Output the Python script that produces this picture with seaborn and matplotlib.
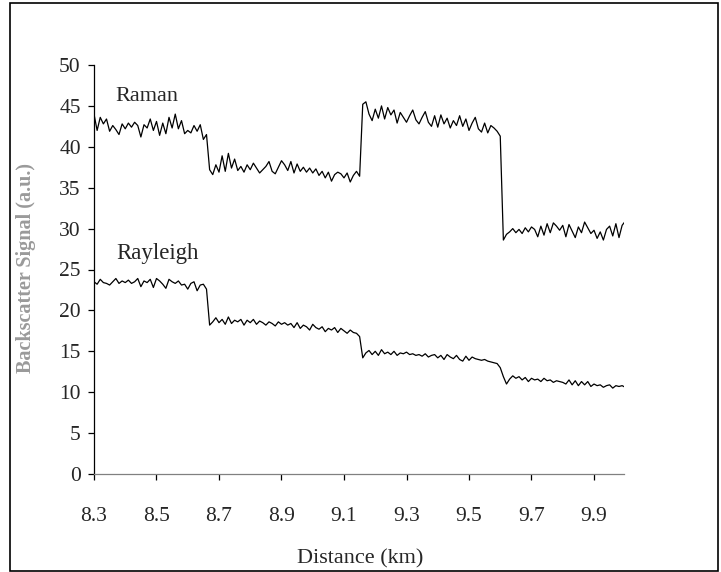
import numpy as np
import pandas as pd
import matplotlib
matplotlib.use("Agg")
import matplotlib.pyplot as plt
import seaborn as sns

# Backscatter traces sampled every 0.01 km from 8.30 to 10.00 km
raman_seg1 = [44.0, 42.0, 43.6, 42.8, 43.4, 41.9, 42.6, 42.1, 41.5, 42.8,
              42.2, 42.9, 42.4, 43.0, 42.6, 41.2, 42.7, 42.3, 43.4, 42.0,
              43.1, 41.4, 42.9, 41.6, 43.6, 42.3, 44.0, 42.2, 43.2, 41.6,
              42.0, 41.7, 42.6, 41.9, 42.7, 40.9, 41.5]
raman_seg2 = [37.2, 36.6, 37.8, 36.9, 38.9, 37.0, 39.2, 37.4, 38.5, 37.1,
              37.6, 36.9, 37.8, 37.2, 38.0, 37.4, 36.8, 37.2, 37.6, 38.2,
              37.0, 36.7, 37.5, 38.3, 37.8, 37.1, 38.2, 36.8, 37.9, 37.0,
              37.5, 36.9, 37.4, 36.8, 37.3, 36.5, 37.0, 36.2, 36.9, 35.8,
              36.6, 36.9, 36.7, 36.2, 36.8, 35.7, 36.5, 37.0, 36.4]
raman_seg3 = [45.2, 45.5, 44.0, 43.2, 44.6, 43.5, 45.0, 43.4, 44.8, 43.9,
              44.5, 42.9, 44.2, 43.6, 43.0, 43.8, 44.5, 43.3, 42.8, 43.6,
              44.3, 43.0, 42.5, 43.8, 42.4, 43.9, 42.8, 43.5, 42.3, 43.2,
              42.6, 43.8, 42.5, 43.4, 42.0, 42.9, 43.6, 42.2, 41.8, 42.9,
              41.7, 42.6, 42.3, 41.9, 41.3]
raman_seg4 = [28.6, 29.3, 29.6, 30.0, 29.5, 29.9, 29.4, 30.1, 29.6, 30.2,
              29.9, 29.0, 30.3, 29.2, 30.6, 29.5, 30.7, 30.3, 29.8, 30.4,
              29.0, 30.5, 29.7, 28.9, 30.2, 29.5, 30.8, 30.1, 29.4, 29.8,
              28.8, 29.6, 28.6, 29.9, 30.3, 29.1, 30.6, 28.9, 30.4, 30.9]

rayleigh_seg1 = [23.5, 23.2, 23.8, 23.4, 23.3, 23.1, 23.5, 23.9, 23.3, 23.6,
                 23.4, 23.7, 23.3, 23.5, 23.9, 22.9, 23.6, 23.4, 23.8, 22.8,
                 23.9, 23.6, 23.2, 22.7, 23.8, 23.5, 23.3, 23.6, 23.1, 23.2,
                 22.6, 23.3, 23.5, 22.4, 23.1, 23.2, 22.6]
rayleigh_seg2 = [18.2, 18.6, 19.1, 18.5, 18.9, 18.3, 19.2, 18.4, 18.8, 18.6,
                 18.9, 18.2, 18.8, 18.5, 18.9, 18.3, 18.7, 18.5, 18.2, 18.6,
                 18.4, 18.1, 18.6, 18.3, 18.5, 18.2, 18.4, 17.9, 18.5, 17.8,
                 18.2, 18.0, 17.6, 18.3, 17.9, 17.7, 18.0, 17.4, 17.8, 17.6,
                 17.9, 17.3, 17.8, 17.5, 17.2, 17.6, 17.3, 17.2, 16.8]
rayleigh_seg3 = [14.2, 14.8, 15.1, 14.6, 15.0, 14.5, 15.2, 14.7, 14.9, 14.6,
                 15.0, 14.5, 14.8, 14.7, 14.9, 14.6, 14.7, 14.5, 14.6, 14.4,
                 14.7, 14.3, 14.5, 14.6, 14.2, 14.5, 14.0, 14.6, 14.3, 14.1,
                 14.5, 14.0, 13.8, 14.4, 13.9, 14.3, 14.1, 14.0, 13.9, 14.0,
                 13.8, 13.7, 13.6, 13.5, 13.0]
rayleigh_seg4 = [11.9, 11.0, 11.6, 12.0, 11.7, 11.9, 11.5, 11.8, 11.3, 11.7,
                 11.5, 11.6, 11.3, 11.7, 11.4, 11.5, 11.2, 11.4, 11.3, 11.2,
                 11.0, 11.5, 10.9, 11.4, 10.8, 11.3, 10.9, 11.3, 10.7, 11.0,
                 10.8, 10.9, 10.6, 10.8, 10.9, 10.5, 10.8, 10.7, 10.8, 10.6]

raman = raman_seg1 + raman_seg2 + raman_seg3 + raman_seg4
rayleigh = rayleigh_seg1 + rayleigh_seg2 + rayleigh_seg3 + rayleigh_seg4
distance = np.round(8.30 + 0.01 * np.arange(len(raman)), 2)

x_ticks = [8.3, 8.5, 8.7, 8.9, 9.1, 9.3, 9.5, 9.7, 9.9]
y_ticks = [0, 5, 10, 15, 20, 25, 30, 35, 40, 45, 50]
series_labels = ["Raman", "Rayleigh"]

df = pd.concat([
    pd.DataFrame({"distance": distance, "signal": raman, "series": "Raman"}),
    pd.DataFrame({"distance": distance[:len(rayleigh)], "signal": rayleigh,
                  "series": "Rayleigh"}),
])

sns.set_style("white")
plt.rcParams["font.family"] = ["Liberation Serif", "DejaVu Serif"]

fig = plt.figure(figsize=(7.21, 5.72), dpi=100)
ax = fig.add_axes([94 / 721, 98 / 572, 530 / 721, 409 / 572])

sns.lineplot(data=df, x="distance", y="signal", hue="series",
             palette=["black", "black"], legend=False, linewidth=0.9, ax=ax)

ax.set_xlim(8.3, 9.996)
ax.set_ylim(0, 50)
ax.set_xticks(x_ticks)
ax.set_xticklabels([f"{v:.1f}" for v in x_ticks])
ax.set_yticks(y_ticks)

for side in ("top", "right"):
    ax.spines[side].set_visible(False)
ax.spines["left"].set_color("black")
ax.spines["bottom"].set_color("#808080")
ax.spines["left"].set_linewidth(0.9)
ax.spines["bottom"].set_linewidth(0.9)

ax.tick_params(axis="y", direction="out", length=4.5, width=0.9,
               color="black", labelsize=15.5, pad=5, left=True)
ax.tick_params(axis="x", direction="out", length=4.5, width=0.9,
               color="black", labelsize=15.5, pad=19, bottom=True)

ax.set_xlabel("Distance (km)", fontsize=16)
ax.xaxis.set_label_coords(0.502, -0.183)
ax.set_ylabel("")
fig.text(26 / 721, 1 - 268 / 572, "Backscatter Signal (a.u.)", rotation=90,
         ha="center", va="center", fontsize=14.5, fontweight="bold",
         color="#9a9a9a")

ax.text(8.37, 46.2, series_labels[0], fontsize=16, ha="left", va="center")
ax.text(8.372, 27.0, series_labels[1], fontsize=16.5, ha="left", va="center")

fig.patches.append(plt.Rectangle((10 / 721, 1 / 572), 708 / 721, 568 / 572,
                                 transform=fig.transFigure, fill=False,
                                 edgecolor="black", linewidth=1.2))

fig.savefig("out.png", dpi=100)
